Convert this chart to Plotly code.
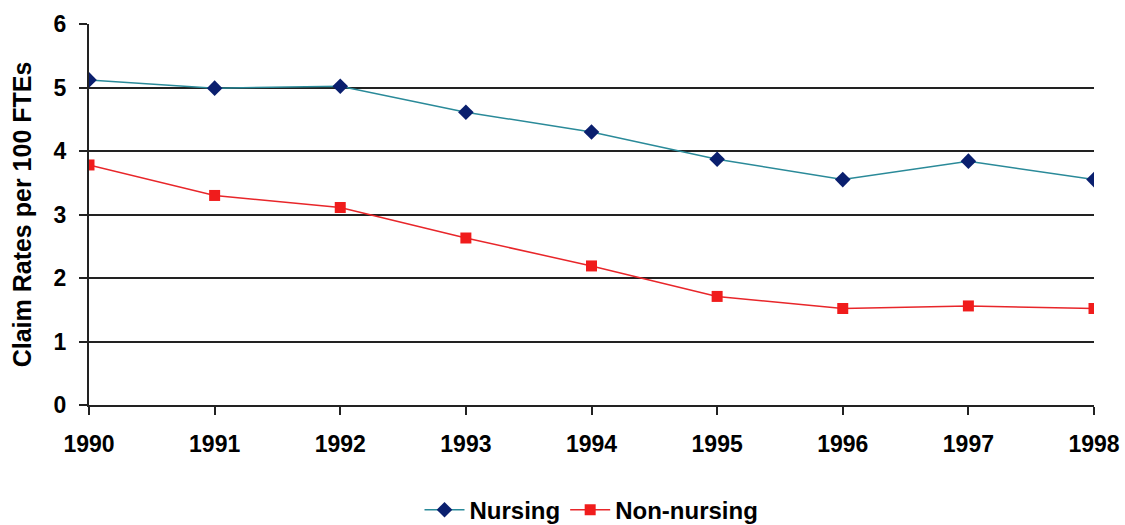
import plotly.graph_objects as go

years = [1990, 1991, 1992, 1993, 1994, 1995, 1996, 1997, 1998]
nursing = [5.12, 4.99, 5.02, 4.61, 4.30, 3.87, 3.55, 3.84, 3.55]
non_nursing = [3.78, 3.30, 3.11, 2.63, 2.19, 1.71, 1.52, 1.56, 1.52]

font_family = "Liberation Sans, Arial, sans-serif"

fig = go.Figure()
fig.add_trace(go.Scatter(
    x=years, y=nursing, name="<b>Nursing</b>", mode="lines+markers",
    line=dict(color="#2a8a99", width=1.5),
    marker=dict(symbol="diamond", size=12, color="#0a1f6e"),
))
fig.add_trace(go.Scatter(
    x=years, y=non_nursing, name="<b>Non-nursing</b>", mode="lines+markers",
    line=dict(color="#e8262a", width=1.5),
    marker=dict(symbol="square", size=11, color="#f01c1c"),
))

fig.update_layout(
    width=1125, height=525,
    margin=dict(l=89, r=31, t=24, b=120, autoexpand=False),
    paper_bgcolor="white", plot_bgcolor="white",
    font=dict(family=font_family, size=23, color="black"),
    showlegend=True,
    legend=dict(orientation="h", x=0.5, xanchor="center", y=-0.276, yanchor="middle",
                font=dict(size=24, family=font_family), itemwidth=40),
    xaxis=dict(
        range=[1990, 1998], tickvals=years, ticktext=[f"<b>{y}</b>" for y in years],
        showgrid=False, zeroline=False, showline=True, linecolor="#222", linewidth=2,
        ticks="outside", ticklen=8, tickwidth=2, tickcolor="#222",
        tickfont=dict(size=23), ticklabelstandoff=9, automargin=False,
    ),
    yaxis=dict(
        range=[0, 6], tickvals=[0, 1, 2, 3, 4, 5, 6],
        ticktext=[f"<b>{v}</b>" for v in range(7)],
        showgrid=True, gridcolor="#222", gridwidth=2,
        zeroline=False, showline=True, linecolor="#222", linewidth=2,
        ticks="outside", ticklen=8, tickwidth=2, tickcolor="#222",
        tickfont=dict(size=23), ticklabelstandoff=8, automargin=False,
        title=dict(text="<b>Claim Rates per 100 FTEs</b>", font=dict(size=25), standoff=15),
    ),
)

fig.write_html("out.html")
